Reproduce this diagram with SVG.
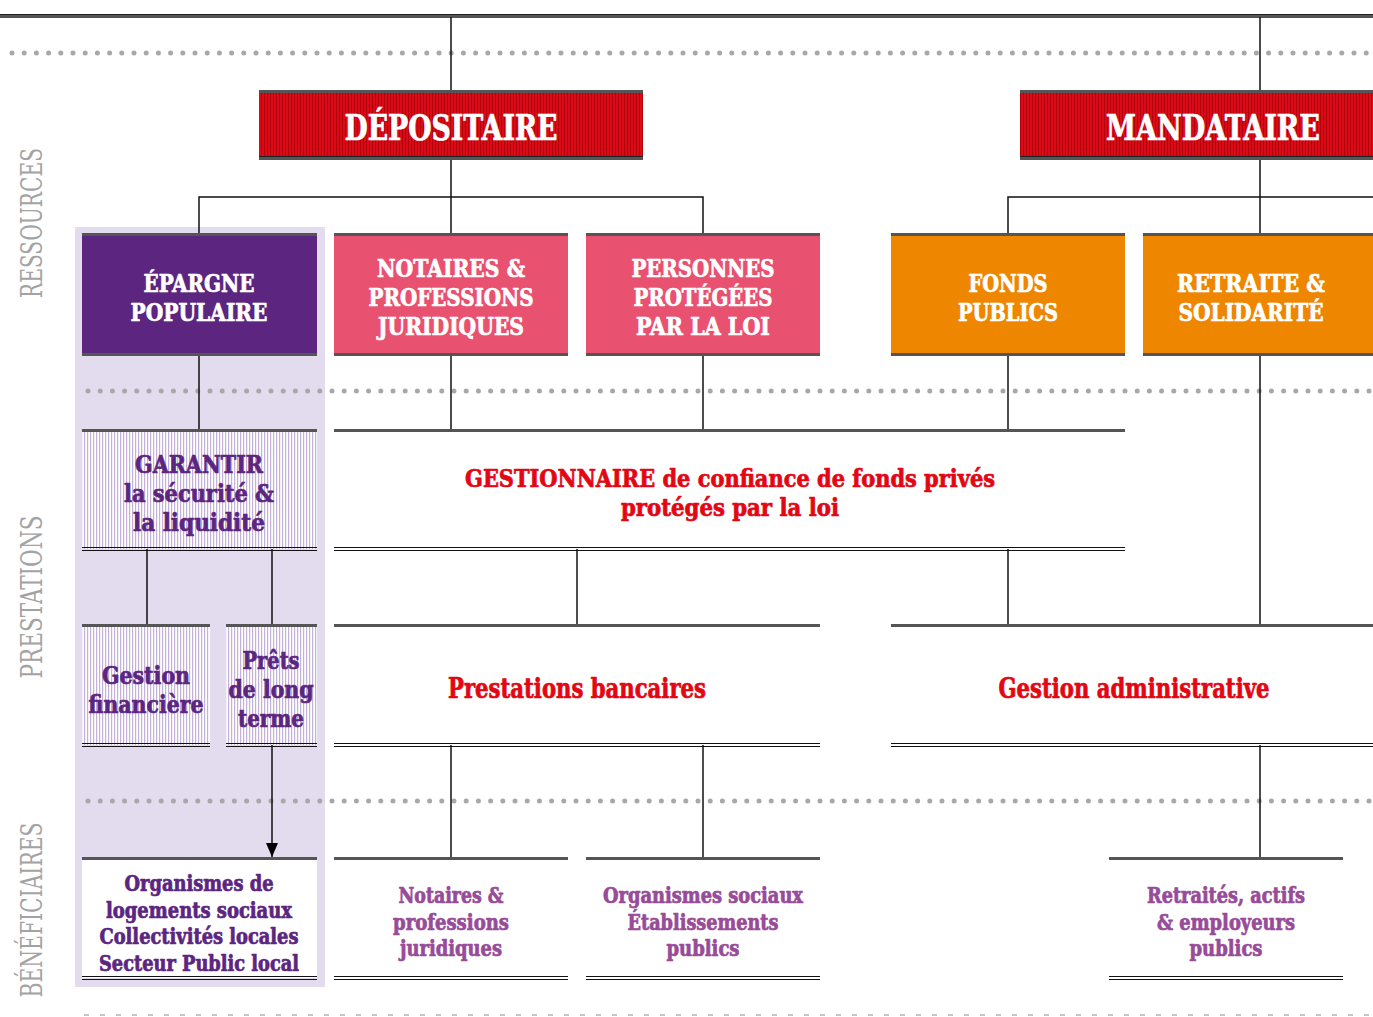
<svg xmlns="http://www.w3.org/2000/svg" width="1373" height="1017" viewBox="0 0 1373 1017">
<defs>
<pattern id="redTex" width="3" height="10" patternUnits="userSpaceOnUse">
<rect width="3" height="10" fill="#d80b16"/>
<rect x="0" width="1" height="10" fill="#b3000d"/>
</pattern>
<pattern id="lilacTex" width="3" height="10" patternUnits="userSpaceOnUse">
<rect width="3" height="10" fill="#ffffff"/>
<rect x="0" width="1.2" height="10" fill="#c4b0d8"/>
</pattern>
<marker id="arr" markerWidth="14" markerHeight="12" refX="14" refY="6" orient="auto" markerUnits="userSpaceOnUse" viewBox="0 0 14 12">
<path d="M0,0 L14,6 L0,12 Z" fill="#000"/>
</marker>
</defs>
<style>
.t{font-family:'DejaVu Serif Condensed','DejaVu Serif','Liberation Serif',serif;font-stretch:condensed;font-weight:bold;text-anchor:middle;stroke-width:0.7;stroke-linejoin:round}
.w{fill:#ffffff;stroke:#ffffff}
.red{fill:#e30613;stroke:#e30613}
.pd{fill:#5b2580;stroke:#5b2580}
.pl{fill:#974b98;stroke:#974b98}
.s1{font-size:24.8px}
.s4{font-size:22px}
.hd{font-size:36px}
.lab{font-family:'DejaVu Serif Condensed','DejaVu Serif','Liberation Serif',serif;font-stretch:condensed;font-weight:normal;fill:#a3a3a3;text-anchor:middle;font-size:30px}
.con{stroke:#111;stroke-width:1.5;fill:none}
.dots{stroke:#a8a8a8;stroke-width:5;stroke-linecap:round;stroke-dasharray:0 12.2;fill:none}
.trule{fill:#555}
.tedge{fill:#222}
.bl{stroke:#111;stroke-width:1}
</style>
<rect width="1373" height="1017" fill="#ffffff"/>

<!-- background panel and guides -->
<rect x="75" y="227" width="250" height="760" fill="#e2dcee"/>
<rect x="0" y="14" width="1373" height="4" fill="#555"/>
<rect x="0" y="14" width="1373" height="1" fill="#222"/>
<path class="dots" d="M12,53 H1373"/>
<path class="dots" d="M88,391 H1373"/>
<path class="dots" d="M88,801 H1373"/>
<path d="M84,1015 H1373" stroke="#b5b5b5" stroke-width="1.5" stroke-dasharray="5 11"/>

<!-- side labels -->
<text class="lab" transform="translate(42,223) rotate(-90)" textLength="150" lengthAdjust="spacingAndGlyphs">RESSOURCES</text>
<text class="lab" transform="translate(42,597) rotate(-90)" textLength="163" lengthAdjust="spacingAndGlyphs">PRESTATIONS</text>
<text class="lab" transform="translate(42,910) rotate(-90)" textLength="175" lengthAdjust="spacingAndGlyphs">BÉNÉFICIAIRES</text>

<!-- connectors -->
<g id="connectors" class="con">
<path d="M451,17 V91"/>
<path d="M1260,17 V91"/>
<path d="M451,159 V234"/>
<path d="M199,234 V197 H703 V234"/>
<path d="M1260,159 V234"/>
<path d="M1008,234 V197 H1373"/>
<path d="M199,354 V430"/>
<path d="M451,354 V430"/>
<path d="M703,354 V430"/>
<path d="M1008,354 V430"/>
<path d="M1260,354 V625"/>
<path d="M147,549 V625"/>
<path d="M272,549 V625"/>
<path d="M577,549 V625"/>
<path d="M1008,549 V625"/>
<path d="M272,745 V857" marker-end="url(#arr)"/>
<path d="M451,745 V858"/>
<path d="M703,745 V858"/>
<path d="M1260,745 V858"/>
</g>

<!-- DEPOSITAIRE -->
<g id="depositaire">
<rect x="259" y="91" width="384" height="68" fill="url(#redTex)"/>
<rect x="259" y="90" width="384" height="3" class="trule"/>
<rect x="259" y="157" width="384" height="3" class="trule"/>
<rect x="259" y="156" width="384" height="1" class="tedge"/>
<text class="t w hd" x="451" y="140" textLength="213" lengthAdjust="spacingAndGlyphs">DÉPOSITAIRE</text>
</g>

<!-- MANDATAIRE -->
<g id="mandataire">
<rect x="1020" y="91" width="353" height="68" fill="url(#redTex)"/>
<rect x="1020" y="90" width="353" height="3" class="trule"/>
<rect x="1020" y="157" width="353" height="3" class="trule"/>
<rect x="1020" y="156" width="353" height="1" class="tedge"/>
<text class="t w hd" x="1213" y="140" textLength="214" lengthAdjust="spacingAndGlyphs">MANDATAIRE</text>
</g>

<!-- Row 1 -->
<g id="epargne">
<rect x="82" y="234" width="235" height="120" fill="#5b2580"/>
<rect x="82" y="233" width="235" height="3" class="trule"/>
<rect x="82" y="353" width="235" height="3" class="trule"/>
<text class="t w s1" x="199" y="292" textLength="111" lengthAdjust="spacingAndGlyphs">ÉPARGNE</text>
<text class="t w s1" x="199" y="321" textLength="137" lengthAdjust="spacingAndGlyphs">POPULAIRE</text>
</g>
<g id="notaires">
<rect x="334" y="234" width="234" height="120" fill="#e8516f"/>
<rect x="334" y="233" width="234" height="3" class="trule"/>
<rect x="334" y="353" width="234" height="3" class="trule"/>
<text class="t w s1" x="451" y="277" textLength="148" lengthAdjust="spacingAndGlyphs">NOTAIRES &amp;</text>
<text class="t w s1" x="451" y="306" textLength="165" lengthAdjust="spacingAndGlyphs">PROFESSIONS</text>
<text class="t w s1" x="451" y="335" textLength="146" lengthAdjust="spacingAndGlyphs">JURIDIQUES</text>
</g>
<g id="personnes">
<rect x="586" y="234" width="234" height="120" fill="#e8516f"/>
<rect x="586" y="233" width="234" height="3" class="trule"/>
<rect x="586" y="353" width="234" height="3" class="trule"/>
<text class="t w s1" x="703" y="277" textLength="143" lengthAdjust="spacingAndGlyphs">PERSONNES</text>
<text class="t w s1" x="703" y="306" textLength="139" lengthAdjust="spacingAndGlyphs">PROTÉGÉES</text>
<text class="t w s1" x="703" y="335" textLength="134" lengthAdjust="spacingAndGlyphs">PAR LA LOI</text>
</g>
<g id="fonds">
<rect x="891" y="234" width="234" height="120" fill="#ef8600"/>
<rect x="891" y="233" width="234" height="3" class="trule"/>
<rect x="891" y="353" width="234" height="3" class="trule"/>
<text class="t w s1" x="1008" y="292" textLength="79" lengthAdjust="spacingAndGlyphs">FONDS</text>
<text class="t w s1" x="1008" y="321" textLength="100" lengthAdjust="spacingAndGlyphs">PUBLICS</text>
</g>
<g id="retraite">
<rect x="1143" y="234" width="230" height="120" fill="#ef8600"/>
<rect x="1143" y="233" width="230" height="3" class="trule"/>
<rect x="1143" y="353" width="230" height="3" class="trule"/>
<text class="t w s1" x="1251" y="292" textLength="148" lengthAdjust="spacingAndGlyphs">RETRAITE &amp;</text>
<text class="t w s1" x="1251" y="321" textLength="145" lengthAdjust="spacingAndGlyphs">SOLIDARITÉ</text>
</g>

<!-- Row 2 -->
<g id="garantir">
<rect x="82" y="430" width="235" height="119" fill="url(#lilacTex)"/>
<rect x="82" y="429" width="235" height="3" class="trule"/>
<line x1="82" y1="547.5" x2="317" y2="547.5" class="bl"/>
<line x1="82" y1="550.5" x2="317" y2="550.5" class="bl"/>
<text class="t pd s1" x="199" y="473" textLength="128" lengthAdjust="spacingAndGlyphs">GARANTIR</text>
<text class="t pd s1" x="199" y="502" textLength="150" lengthAdjust="spacingAndGlyphs">la sécurité &amp;</text>
<text class="t pd s1" x="199" y="531" textLength="132" lengthAdjust="spacingAndGlyphs">la liquidité</text>
</g>
<g id="gestionnaire">
<rect x="334" y="429" width="791" height="3" class="trule"/>
<line x1="334" y1="547.5" x2="1125" y2="547.5" class="bl"/>
<line x1="334" y1="550.5" x2="1125" y2="550.5" class="bl"/>
<text class="t red s1" x="730" y="487" textLength="530" lengthAdjust="spacingAndGlyphs">GESTIONNAIRE de confiance de fonds privés</text>
<text class="t red s1" x="730" y="516" textLength="218" lengthAdjust="spacingAndGlyphs">protégés par la loi</text>
</g>

<!-- Row 3 -->
<g id="gestion-financiere">
<rect x="82" y="625" width="128" height="120" fill="url(#lilacTex)"/>
<rect x="82" y="624" width="128" height="3" class="trule"/>
<line x1="82" y1="743.5" x2="210" y2="743.5" class="bl"/>
<line x1="82" y1="746.5" x2="210" y2="746.5" class="bl"/>
<text class="t pd s1" x="146" y="684" textLength="88" lengthAdjust="spacingAndGlyphs">Gestion</text>
<text class="t pd s1" x="146" y="713" textLength="115" lengthAdjust="spacingAndGlyphs">financière</text>
</g>
<g id="prets">
<rect x="226" y="625" width="91" height="120" fill="url(#lilacTex)"/>
<rect x="226" y="624" width="91" height="3" class="trule"/>
<line x1="226" y1="743.5" x2="317" y2="743.5" class="bl"/>
<line x1="226" y1="746.5" x2="317" y2="746.5" class="bl"/>
<text class="t pd s1" x="271" y="669" textLength="57" lengthAdjust="spacingAndGlyphs">Prêts</text>
<text class="t pd s1" x="271" y="698" textLength="85" lengthAdjust="spacingAndGlyphs">de long</text>
<text class="t pd s1" x="271" y="727" textLength="66" lengthAdjust="spacingAndGlyphs">terme</text>
</g>
<g id="prestations-bancaires">
<rect x="334" y="624" width="486" height="3" class="trule"/>
<line x1="334" y1="743.5" x2="820" y2="743.5" class="bl"/>
<line x1="334" y1="746.5" x2="820" y2="746.5" class="bl"/>
<text class="t red" x="577" y="698" font-size="28" textLength="258" lengthAdjust="spacingAndGlyphs">Prestations bancaires</text>
</g>
<g id="gestion-administrative">
<rect x="891" y="624" width="482" height="3" class="trule"/>
<line x1="891" y1="743.5" x2="1373" y2="743.5" class="bl"/>
<line x1="891" y1="746.5" x2="1373" y2="746.5" class="bl"/>
<text class="t red" x="1134" y="698" font-size="28" textLength="271" lengthAdjust="spacingAndGlyphs">Gestion administrative</text>
</g>

<!-- Row 4 -->
<g id="organismes-logements">
<rect x="82" y="858" width="235" height="120" fill="#ffffff"/>
<rect x="82" y="857" width="235" height="3" class="trule"/>
<line x1="82" y1="976.5" x2="317" y2="976.5" class="bl"/>
<line x1="82" y1="979.5" x2="317" y2="979.5" class="bl"/>
<text class="t pd s4" x="199" y="891" textLength="149" lengthAdjust="spacingAndGlyphs">Organismes de</text>
<text class="t pd s4" x="199" y="918" textLength="186" lengthAdjust="spacingAndGlyphs">logements sociaux</text>
<text class="t pd s4" x="199" y="944" textLength="199" lengthAdjust="spacingAndGlyphs">Collectivités locales</text>
<text class="t pd s4" x="199" y="971" textLength="200" lengthAdjust="spacingAndGlyphs">Secteur Public local</text>
</g>
<g id="notaires-beneficiaires">
<rect x="334" y="857" width="234" height="3" class="trule"/>
<line x1="334" y1="976.5" x2="568" y2="976.5" class="bl"/>
<line x1="334" y1="979.5" x2="568" y2="979.5" class="bl"/>
<text class="t pl s4" x="451" y="903" textLength="105" lengthAdjust="spacingAndGlyphs">Notaires &amp;</text>
<text class="t pl s4" x="451" y="930" textLength="116" lengthAdjust="spacingAndGlyphs">professions</text>
<text class="t pl s4" x="451" y="956" textLength="102" lengthAdjust="spacingAndGlyphs">juridiques</text>
</g>
<g id="organismes-sociaux">
<rect x="586" y="857" width="234" height="3" class="trule"/>
<line x1="586" y1="976.5" x2="820" y2="976.5" class="bl"/>
<line x1="586" y1="979.5" x2="820" y2="979.5" class="bl"/>
<text class="t pl s4" x="703" y="903" textLength="200" lengthAdjust="spacingAndGlyphs">Organismes sociaux</text>
<text class="t pl s4" x="703" y="930" textLength="151" lengthAdjust="spacingAndGlyphs">Établissements</text>
<text class="t pl s4" x="703" y="956" textLength="73" lengthAdjust="spacingAndGlyphs">publics</text>
</g>
<g id="retraites">
<rect x="1109" y="857" width="234" height="3" class="trule"/>
<line x1="1109" y1="976.5" x2="1343" y2="976.5" class="bl"/>
<line x1="1109" y1="979.5" x2="1343" y2="979.5" class="bl"/>
<text class="t pl s4" x="1226" y="903" textLength="158" lengthAdjust="spacingAndGlyphs">Retraités, actifs</text>
<text class="t pl s4" x="1226" y="930" textLength="138" lengthAdjust="spacingAndGlyphs">&amp; employeurs</text>
<text class="t pl s4" x="1226" y="956" textLength="73" lengthAdjust="spacingAndGlyphs">publics</text>
</g>
</svg>
